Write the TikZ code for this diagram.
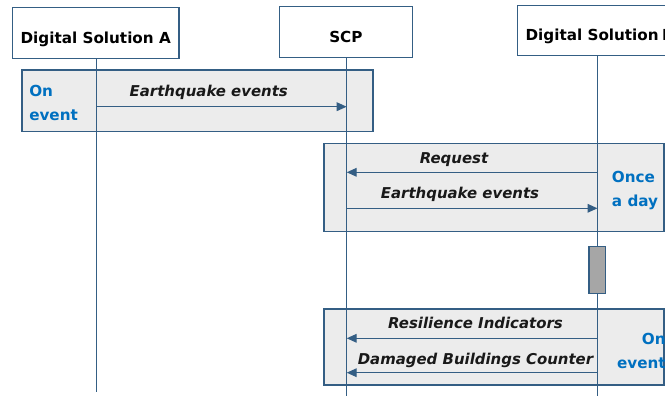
\documentclass[tikz,border=0pt]{standalone}
\usepackage{fontspec}
\setmainfont{DejaVu Sans}
\usetikzlibrary{arrows.meta, positioning}
\definecolor{lineBlue}{RGB}{52,94,132}
\definecolor{labelBlue}{RGB}{0,112,192}
\definecolor{frameGray}{RGB}{236,236,236}
\definecolor{barGray}{RGB}{166,166,166}

\begin{document}
\begin{tikzpicture}[x=0.75pt, y=-0.75pt, >={Triangle[length=7.5pt, width=6.5pt]},
    head/.style={draw=lineBlue, line width=0.9pt, fill=white, inner ysep=0pt, inner xsep=5pt,
        text height=26.5pt, text depth=11.5pt, font=\fontsize{11.4}{14}\selectfont\bfseries},
    frame/.style={draw=lineBlue, line width=0.8pt, fill=frameGray},
    life/.style={lineBlue, line width=1pt},
    msg/.style={->, lineBlue, line width=1pt},
    msglabel/.style={anchor=base, inner sep=0pt, text=black!90, font=\fontsize{11.2}{14}\selectfont\bfseries\itshape},
    when/.style={inner sep=0pt, align=left, text=labelBlue, font=\fontsize{11.4}{18}\selectfont\bfseries}]
    \useasboundingbox (0,0) rectangle (665,396);
    \clip (0,0) rectangle (665,396);

    \node[head, anchor=base, minimum width=125pt] (boxA) at (95.7,43) {Digital Solution A};
    \node[head, anchor=base, minimum width=100pt] (boxS) at (345.9,42) {SCP};
    \node[head, anchor=base west, inner xsep=6pt] (boxB) at (517,40.5) {Digital Solution\kern-0.12em\ B};

    \draw[frame] (22,70) rectangle (373,131.7);
    \draw[frame] (324,143.3) rectangle (664,231.7);
    \draw[frame] (324,309) rectangle (664,385);

    \coordinate (endA) at (96.3,391.7);
    \coordinate (endS) at (346.7,396);
    \coordinate (endB) at (597.5,396);
    \draw[life] (endA |- boxA.south) -- (endA);
    \draw[life] (endS |- boxS.south) -- (endS);
    \draw[life] (endB |- boxB.south) -- (endB);

    \draw[lineBlue, line width=0.9pt, fill=barGray] (589,246.7) rectangle (605.3,293.3);

    \coordinate (a1) at (endA |- 0,106.7);  \coordinate (s1) at (endS |- 0,106.7);
    \coordinate (b2) at (endB |- 0,172.3);  \coordinate (s2) at (endS |- 0,172.3);
    \coordinate (s3) at (endS |- 0,208.3);  \coordinate (b3) at (endB |- 0,208.3);
    \coordinate (b4) at (endB |- 0,338.3);  \coordinate (s4) at (endS |- 0,338.3);
    \coordinate (b5) at (endB |- 0,372.7);  \coordinate (s5) at (endS |- 0,372.7);

    \draw[msg] (a1) -- (s1);
    \draw[msg] (b2) -- (s2);
    \draw[msg] (s3) -- (b3);
    \draw[msg] (b4) -- (s4);
    \draw[msg] (b5) -- (s5);

    \node[msglabel] (eq1) at (208.8,96) {Earthquake events};
    \node[msglabel] (req) at (454,163.5) {Request};
    \node[msglabel] (eq2) at (460,198.3) {Earthquake events};
    \node[msglabel] (res) at (475.5,328.3) {Resilience Indicators};
    \node[msglabel] (dmg) at (475.5,364) {Damaged Buildings Counter};

    \node[when, anchor=base west] (onA) at (29,120) {On\\event};
    \node[when, anchor=base west] (daily) at (611.7,206) {Once\\a day};
    \node[when, anchor=base east, align=right] (onB) at (666,368) {On\\event};
\end{tikzpicture}
\end{document}
